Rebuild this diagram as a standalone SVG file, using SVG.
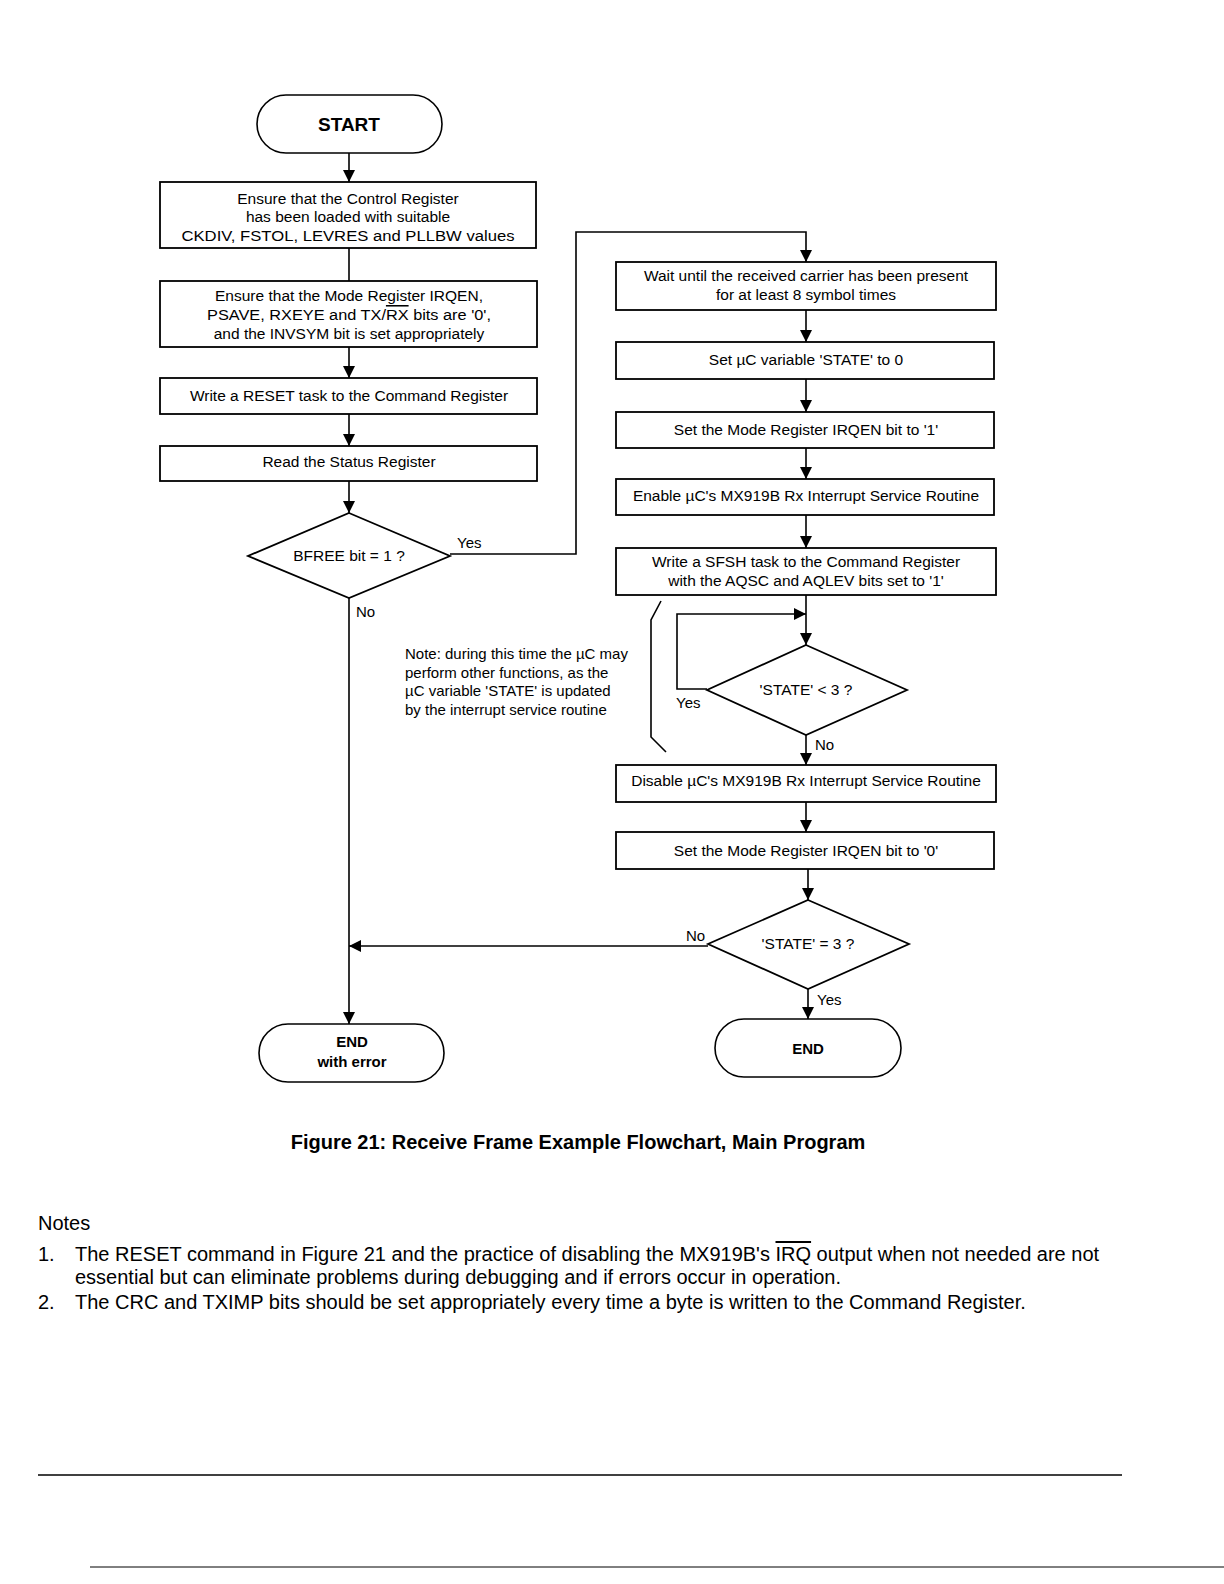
<svg xmlns="http://www.w3.org/2000/svg" width="1224" height="1584" viewBox="0 0 1224 1584">
<style>
.bx{fill:#fff;stroke:#000;stroke-width:1.8}
.term{fill:#fff;stroke:#000;stroke-width:1.6}
.ln{fill:none;stroke:#000;stroke-width:1.6}
.t{font-family:"Liberation Sans",Arial,sans-serif;font-size:15.5px;fill:#000;text-anchor:middle}
.lb{font-family:"Liberation Sans",Arial,sans-serif;font-size:15px;fill:#000}
.tb{font-family:"Liberation Sans",Arial,sans-serif;font-weight:bold;fill:#000;text-anchor:middle}
.n{font-family:"Liberation Sans",Arial,sans-serif;font-size:20px;fill:#000}
</style>
<defs>
<marker id="ah" markerUnits="userSpaceOnUse" markerWidth="12" markerHeight="14" refX="12" refY="6" orient="auto">
<path d="M0,0 L12,6 L0,12 Z" fill="#000"/>
</marker>
</defs>
<rect width="1224" height="1584" fill="#fff"/>

<g id="connectors">
<line class="ln" x1="349" y1="153" x2="349" y2="182" marker-end="url(#ah)"/>
<line class="ln" x1="349" y1="248" x2="349" y2="281"/>
<line class="ln" x1="349" y1="347" x2="349" y2="378" marker-end="url(#ah)"/>
<line class="ln" x1="349" y1="414" x2="349" y2="446" marker-end="url(#ah)"/>
<line class="ln" x1="349" y1="481" x2="349" y2="513" marker-end="url(#ah)"/>
<polyline class="ln" points="450,554 576,554 576,232 806,232 806,262" marker-end="url(#ah)"/>
<line class="ln" x1="349" y1="598" x2="349" y2="1024" marker-end="url(#ah)"/>
<line class="ln" x1="806" y1="310" x2="806" y2="342" marker-end="url(#ah)"/>
<line class="ln" x1="806" y1="379" x2="806" y2="412" marker-end="url(#ah)"/>
<line class="ln" x1="806" y1="448" x2="806" y2="479" marker-end="url(#ah)"/>
<line class="ln" x1="806" y1="515" x2="806" y2="548" marker-end="url(#ah)"/>
<line class="ln" x1="806" y1="595" x2="806" y2="645" marker-end="url(#ah)"/>
<polyline class="ln" points="707,689 677,689 677,614 806,614" marker-end="url(#ah)"/>
<line class="ln" x1="806" y1="735" x2="806" y2="765" marker-end="url(#ah)"/>
<line class="ln" x1="806" y1="802" x2="806" y2="832" marker-end="url(#ah)"/>
<line class="ln" x1="808" y1="869" x2="808" y2="900" marker-end="url(#ah)"/>
<line class="ln" x1="708" y1="946" x2="349" y2="946" marker-end="url(#ah)"/>
<line class="ln" x1="808" y1="989" x2="808" y2="1019" marker-end="url(#ah)"/>
<text class="lb" x="457" y="548">Yes</text>
<text class="lb" x="356" y="617">No</text>
<text class="lb" x="676" y="708">Yes</text>
<text class="lb" x="815" y="750">No</text>
<text class="lb" x="686" y="941">No</text>
<text class="lb" x="817" y="1005">Yes</text>
</g>

<g id="start">
<rect class="term" x="257" y="95" width="185" height="58" rx="29"/>
<text class="tb" x="349" y="131" font-size="19">START</text>
</g>
<g id="ensure-control">
<rect class="bx" x="160" y="182" width="376" height="66"/>
<text class="t" x="348" y="204">Ensure that the Control Register</text>
<text class="t" x="348" y="222">has been loaded with suitable</text>
<text class="t" x="348" y="241" textLength="333" lengthAdjust="spacingAndGlyphs">CKDIV, FSTOL, LEVRES and PLLBW values</text>
</g>
<g id="ensure-mode">
<rect class="bx" x="160" y="281" width="377" height="66"/>
<text class="t" x="349" y="301">Ensure that the Mode Register IRQEN,</text>
<text class="t" x="349" y="320" textLength="284" lengthAdjust="spacingAndGlyphs">PSAVE, RXEYE and TX/<tspan text-decoration="overline">RX</tspan> bits are '0',</text>
<text class="t" x="349" y="339">and the INVSYM bit is set appropriately</text>
</g>
<g id="reset">
<rect class="bx" x="160" y="378" width="377" height="36"/>
<text class="t" x="349" y="401">Write a RESET task to the Command Register</text>
</g>
<g id="read-status">
<rect class="bx" x="160" y="446" width="377" height="35"/>
<text class="t" x="349" y="467">Read the Status Register</text>
</g>
<g id="bfree">
<polygon class="bx" points="349,513 450,556 349,598 248,556"/>
<text class="t" x="349" y="561">BFREE bit = 1 ?</text>
</g>
<g id="wait-carrier">
<rect class="bx" x="616" y="262" width="380" height="48"/>
<text class="t" x="806" y="281">Wait until the received carrier has been present</text>
<text class="t" x="806" y="300">for at least 8 symbol times</text>
</g>
<g id="set-state">
<rect class="bx" x="616" y="342" width="378" height="37"/>
<text class="t" x="806" y="365">Set µC variable 'STATE' to 0</text>
</g>
<g id="irqen1">
<rect class="bx" x="616" y="412" width="378" height="36"/>
<text class="t" x="806" y="435">Set the Mode Register IRQEN bit to '1'</text>
</g>
<g id="enable-isr">
<rect class="bx" x="616" y="479" width="378" height="36"/>
<text class="t" x="806" y="501">Enable µC's MX919B Rx Interrupt Service Routine</text>
</g>
<g id="sfsh">
<rect class="bx" x="616" y="548" width="380" height="47"/>
<text class="t" x="806" y="567">Write a SFSH task to the Command Register</text>
<text class="t" x="806" y="586">with the AQSC and AQLEV bits set to '1'</text>
</g>
<g id="state-lt3">
<polygon class="bx" points="806,645 907,690 806,735 707,690"/>
<text class="t" x="806" y="695">'STATE' &lt; 3 ?</text>
</g>
<g id="note">
<path class="ln" d="M661,601 L651,620 L651,737 L666,752"/>
<text class="lb" x="405" y="659">Note: during this time the µC may</text>
<text class="lb" x="405" y="678">perform other functions, as the</text>
<text class="lb" x="405" y="696">µC variable 'STATE' is updated</text>
<text class="lb" x="405" y="715">by the interrupt service routine</text>
</g>
<g id="disable-isr">
<rect class="bx" x="616" y="765" width="380" height="37"/>
<text class="t" x="806" y="786">Disable µC's MX919B Rx Interrupt Service Routine</text>
</g>
<g id="irqen0">
<rect class="bx" x="616" y="832" width="378" height="37"/>
<text class="t" x="806" y="856">Set the Mode Register IRQEN bit to '0'</text>
</g>
<g id="state-eq3">
<polygon class="bx" points="808,900 909,944 808,989 708,944"/>
<text class="t" x="808" y="949">'STATE' = 3 ?</text>
</g>
<g id="end">
<rect class="term" x="715" y="1019" width="186" height="58" rx="29"/>
<text class="tb" x="808" y="1054" font-size="15">END</text>
</g>
<g id="end-error">
<rect class="term" x="259" y="1024" width="185" height="58" rx="29"/>
<text class="tb" x="352" y="1047" font-size="15">END</text>
<text class="tb" x="352" y="1067" font-size="15">with error</text>
</g>

<text class="tb" x="578" y="1149" font-size="20">Figure 21: Receive Frame Example Flowchart, Main Program</text>

<g id="notes">
<text class="n" x="38" y="1230">Notes</text>
<text class="n" x="38" y="1261">1.</text>
<text class="n" x="75" y="1261">The RESET command in Figure 21 and the practice of disabling the MX919B's <tspan text-decoration="overline">IRQ</tspan>  output when not needed are not</text>
<text class="n" x="75" y="1284">essential but can eliminate problems during debugging and if errors occur in operation.</text>
<text class="n" x="38" y="1309">2.</text>
<text class="n" x="75" y="1309">The CRC and TXIMP bits should be set appropriately every time a byte is written to the Command Register.</text>
</g>
<line x1="38" y1="1475" x2="1122" y2="1475" stroke="#000" stroke-width="1.5"/>
<line x1="90" y1="1567" x2="1224" y2="1567" stroke="#000" stroke-width="1"/>
</svg>
